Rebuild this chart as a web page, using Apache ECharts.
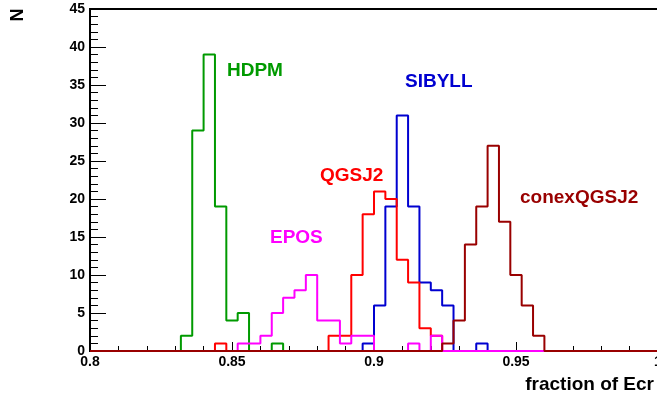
<!DOCTYPE html>
<html>
<head>
<meta charset="utf-8">
<script src="https://cdn.jsdelivr.net/npm/echarts@6/dist/echarts.min.js"></script>
<style>html,body{margin:0;padding:0;background:#fff;}#c{width:657px;height:397px;}</style>
</head>
<body>
<div id="c"></div>
<script>
// Histogram binning: 50 bins from 0.8 to 1.0
var binMin = 0.8, binWidth = 0.004, nBins = 50;
// Non-zero bin contents: [binIndex, count]
var hdpm    = [[8,2],[9,29],[10,39],[11,19],[12,4],[13,5],[16,1]];
var epos    = [[13,1],[14,1],[15,2],[16,5],[17,7],[18,8],[19,10],[20,4],[21,4],[22,1],[23,2],[24,2],[28,1],[30,2]];
var sibyll  = [[24,1],[25,6],[26,19],[27,31],[28,19],[29,9],[30,8],[31,6],[34,1]];
var qgsj2   = [[11,1],[21,2],[22,2],[23,10],[24,18],[25,21],[26,20],[27,12],[28,9],[29,3],[30,2]];
var conex   = [[31,1],[32,4],[33,14],[34,19],[35,27],[36,17],[37,10],[38,6],[39,2]];
var seriesNames = ['HDPM','SIBYLL','QGSJ2','EPOS','conexQGSJ2'];
var xTickLabels = ['0.8','0.85','0.9','0.95','1'];

function stepPoints(nonzero){
  var vals = new Array(nBins).fill(0);
  nonzero.forEach(function(p){ vals[p[0]] = p[1]; });
  var pts = [];
  for (var i = 0; i < nBins; i++){
    var x0 = +(binMin + i*binWidth).toFixed(4), x1 = +(binMin + (i+1)*binWidth).toFixed(4);
    pts.push([x0, vals[i]]); pts.push([x1, vals[i]]);
  }
  return pts;
}

var FONT = '"Liberation Sans", Arial, Helvetica, sans-serif';
var colors = {HDPM:'#009a00', EPOS:'#ff00ff', SIBYLL:'#0000d0', QGSJ2:'#ff0000', conexQGSJ2:'#990000'};
var dataSets = {HDPM:hdpm, EPOS:epos, SIBYLL:sibyll, QGSJ2:qgsj2, conexQGSJ2:conex};

var chart = echarts.init(document.getElementById('c'), null, {renderer:'canvas'});
chart.setOption({
  animation:false,
  backgroundColor:'#fff',
  grid:{left:90, right:-1, top:9, bottom:46, show:true, borderColor:'#000', borderWidth:2, backgroundColor:'transparent',
        containLabel:false, outerBoundsMode:'none'},
  xAxis:{
    type:'value', min:0.8, max:1.0, interval:0.05,
    axisLine:{show:true, onZero:false, lineStyle:{color:'#000', width:2}},
    axisTick:{show:true, inside:true, length:9, lineStyle:{color:'#000', width:1}},
    minorTick:{show:true, splitNumber:5, length:5, lineStyle:{color:'#000', width:1}},
    splitLine:{show:false},
    axisLabel:{margin:4, color:'#000', fontFamily:FONT, fontWeight:'bold', fontSize:14,
      showMinLabel:true, showMaxLabel:true, hideOverlap:false,
      formatter:function(v){ var s = String(+(+v).toFixed(2)); return xTickLabels.indexOf(s) >= 0 ? s : ''; }}
  },
  yAxis:{
    type:'value', min:0, max:45, interval:5,
    axisLine:{show:true, lineStyle:{color:'#000', width:2}},
    axisTick:{show:true, inside:true, length:16, lineStyle:{color:'#000', width:1}},
    minorTick:{show:true, splitNumber:5, length:8, lineStyle:{color:'#000', width:1}},
    splitLine:{show:false},
    axisLabel:{margin:5, color:'#000', fontFamily:FONT, fontWeight:'bold', fontSize:14}
  },
  series: seriesNames.map(function(n){
    return {name:n, type:'line', data:stepPoints(dataSets[n]), showSymbol:false, symbol:'none',
      clip:false, lineStyle:{color:colors[n], width:2}, itemStyle:{color:colors[n]}, z:3};
  }),
  graphic:[
    {type:'text', left:227, top:61, style:{text:'HDPM', fill:colors.HDPM, font:'bold 19px '+FONT}},
    {type:'text', left:405, top:72, style:{text:'SIBYLL', fill:colors.SIBYLL, font:'bold 19px '+FONT}},
    {type:'text', left:320, top:166, style:{text:'QGSJ2', fill:colors.QGSJ2, font:'bold 19px '+FONT}},
    {type:'text', left:270, top:228, style:{text:'EPOS', fill:colors.EPOS, font:'bold 19px '+FONT}},
    {type:'text', left:520, top:188, style:{text:'conexQGSJ2', fill:colors.conexQGSJ2, font:'bold 19px '+FONT}},
    {type:'text', x:18, y:15, rotation:Math.PI/2, style:{text:'N', fill:'#000', font:'bold 18px '+FONT, align:'center', verticalAlign:'middle'}},
    {type:'text', right:3, top:375, style:{text:'fraction of Ecr', fill:'#000', font:'bold 19px '+FONT}}
  ]
});
</script>
</body>
</html>
